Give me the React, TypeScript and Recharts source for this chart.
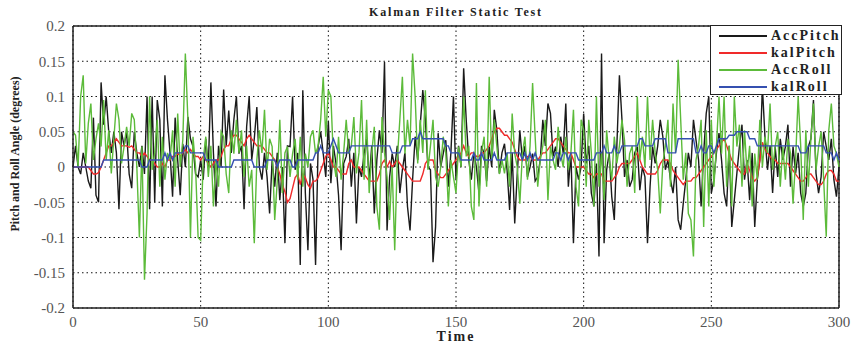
import React from "react";
import {
  LineChart,
  Line,
  XAxis,
  YAxis,
  CartesianGrid,
  ReferenceLine,
  Legend,
  Label,
} from "recharts";

// time axis, one sample per step
const time = Array.from({ length: 301 }, (_, i) => i);

const accPitch = [
  0.0, 0.03, 0.0, -0.01, 0.02, 0.0, -0.02, -0.03, 0.07, -0.04,
  -0.05, 0.12, 0.06, 0.1, 0.05, 0.02, 0.05, 0.02, -0.06, 0.05,
  0.03, 0.05, -0.01, -0.03, 0.05, 0.02, 0.0, 0.03, -0.01, 0.1,
  -0.06, 0.1, -0.05, 0.095, 0.067, -0.056, 0.13, 0.067, 0.02, -0.042,
  0.07, 0.01, -0.04, 0.033, 0.0, 0.071, 0.04, 0.029, -0.01, -0.014,
  0.01, -0.018, 0.04, 0.0, 0.12, 0.02, -0.056, 0.03, 0.0, 0.11,
  0.03, 0.08, 0.02, 0.067, 0.1, 0.019, 0.03, -0.06, 0.057, 0.1,
  0.01, 0.04, 0.085, 0.0, -0.018, 0.02, -0.014, -0.066, 0.01, -0.028,
  0.02, -0.047, 0.0, -0.108, 0.03, 0.029, 0.1, -0.004, 0.02, -0.139,
  0.109, -0.037, -0.118, 0.005, -0.018, -0.139, 0.029, 0.05, 0.019, -0.014,
  0.065, -0.023, 0.03, 0.005, -0.04, -0.118, 0.005, 0.015, 0.04, -0.028,
  0.02, -0.08, 0.0, -0.014, 0.019, 0.04, -0.018, 0.03, -0.066, 0.01,
  0.052, 0.02, 0.149, -0.09, -0.014, 0.019, 0.0, 0.03, -0.037, -0.004,
  0.02, -0.056, -0.09, -0.018, 0.043, 0.01, 0.06, 0.109, 0.067, 0.0,
  -0.004, -0.135, -0.085, 0.048, 0.0, 0.019, 0.038, -0.028, 0.02, 0.1,
  -0.018, 0.03, 0.0, 0.14, 0.067, 0.01, -0.018, 0.02, 0.0, -0.037,
  0.03, 0.019, -0.02, 0.029, 0.0, 0.081, 0.052, -0.009, 0.02, 0.033,
  -0.004, -0.061, 0.02, -0.08, -0.009, 0.052, 0.01, 0.03, -0.014, 0.0,
  0.019, -0.02, -0.014, 0.01, 0.067, 0.03, 0.09, 0.076, 0.015, 0.029,
  0.0, 0.043, 0.02, 0.09, -0.028, 0.02, -0.108, 0.0, -0.018, 0.0,
  0.076, 0.005, 0.03, -0.037, -0.056, 0.005, -0.127, 0.161, -0.108, -0.004,
  0.02, -0.042, -0.075, 0.03, 0.13, 0.067, -0.014, 0.01, -0.028, -0.018,
  0.02, 0.029, -0.033, 0.0, -0.014, -0.108, -0.028, 0.029, 0.005, 0.03,
  0.067, 0.043, -0.004, 0.01, -0.018, -0.037, 0.0, -0.075, -0.089, -0.052,
  -0.018, 0.02, 0.0, 0.067, 0.038, 0.01, -0.056, 0.02, 0.076, 0.1,
  -0.037, -0.018, 0.02, 0.048, 0.01, -0.037, -0.056, 0.03, -0.085, -0.047,
  -0.009, 0.029, 0.06, -0.018, 0.01, -0.047, 0.02, -0.085, -0.018, 0.01,
  0.114, 0.043, -0.004, 0.03, -0.037, 0.029, -0.014, 0.04, 0.01, 0.029,
  0.06, -0.028, 0.029, -0.009, 0.02, -0.037, -0.056, -0.037, 0.029, 0.04,
  0.095, -0.009, -0.037, -0.014, 0.05, 0.029, 0.01, 0.04, -0.018, -0.042, 0.0,
];

const kalPitch = [
  0, 0, 0, 0, 0, 0, 0, -0.005, -0.01, -0.01,
  -0.008, 0.0, 0.01, 0.02, 0.03, 0.03, 0.035, 0.04, 0.035, 0.03,
  0.03, 0.03, 0.028, 0.03, 0.025, 0.02, 0.02, 0.015, 0.02, 0.015,
  0.01, 0.01, 0.005, 0.0, 0.0, 0.005, 0.0, 0.01, 0.01, 0.015,
  0.015, 0.02, 0.015, 0.02, 0.025, 0.02, 0.025, 0.02, 0.015, 0.015,
  0.01, 0.015, 0.01, 0.005, 0.0, 0.005, 0.01, 0.01, 0.015, 0.025,
  0.03, 0.03, 0.04, 0.045, 0.045, 0.04, 0.035, 0.03, 0.04, 0.045,
  0.04, 0.035, 0.03, 0.03, 0.03, 0.025, 0.02, 0.02, 0.015, 0.01,
  0.0, -0.01, -0.025, -0.035, -0.05, -0.045, -0.03, -0.015, -0.01, -0.025,
  -0.01, -0.015, -0.025, -0.03, -0.02, -0.02, -0.015, -0.005, 0.005, 0.015,
  0.02, 0.01, 0.0, 0.0, -0.005, -0.01, -0.01, -0.01, 0.005, 0.01,
  0.0, 0.0, 0.0, -0.005, -0.01, -0.015, -0.02, -0.02, -0.02, -0.02,
  -0.01, 0.005, 0.01, 0.0, 0.008, 0.0, 0.005, 0.01, 0.005, 0.0,
  -0.005, -0.01, -0.015, -0.02, -0.02, -0.02, -0.02, -0.01, 0.005, 0.01,
  0.01, 0.01, -0.005, -0.01, -0.015, -0.015, -0.01, -0.005, 0.0, 0.005,
  0.01, 0.015, 0.02, 0.03, 0.02, 0.015, 0.02, 0.02, 0.015, 0.015,
  0.02, 0.02, 0.025, 0.03, 0.04, 0.05, 0.055, 0.055, 0.05, 0.045,
  0.045, 0.04, 0.035, 0.025, 0.015, 0.01, 0.01, 0.01, 0.015, 0.015,
  0.01, 0.01, 0.01, 0.015, 0.02, 0.02, 0.025, 0.03, 0.035, 0.04,
  0.04, 0.035, 0.03, 0.025, 0.02, 0.02, 0.01, 0.0, 0.0, 0.0,
  0.0, -0.005, -0.01, -0.01, -0.015, -0.01, -0.01, -0.01, -0.02, -0.02,
  -0.02, -0.02, -0.015, -0.01, 0.0, 0.005, 0.005, 0.005, 0.005, 0.01,
  0.015, 0.02, 0.01, 0.0, -0.005, -0.01, -0.01, -0.01, -0.01, -0.005,
  0.005, 0.01, 0.01, 0.01, 0.005, -0.005, -0.01, -0.015, -0.02, -0.025,
  -0.02, -0.02, -0.02, -0.015, -0.015, -0.01, -0.005, 0.0, 0.005, 0.01,
  0.015, 0.02, 0.025, 0.03, 0.035, 0.04, 0.03, 0.02, 0.01, 0.005,
  0.0, -0.005, -0.01, -0.01, 0.005, -0.005, -0.015, -0.02, -0.015, 0.01,
  0.035, 0.025, 0.02, 0.015, 0.01, 0.01, 0.005, 0.005, 0.005, 0.005,
  0.005, 0.0, -0.005, -0.01, -0.015, -0.02, -0.02, -0.015, -0.01, -0.01,
  -0.015, -0.02, -0.025, -0.025, -0.02, -0.01, -0.005, -0.005, -0.01, -0.02, -0.02,
];

const accRoll = [
  0.05, 0.045, 0.0, 0.1, 0.13, 0.005, 0.062, 0.09, 0.01, 0.04,
  0.062, 0.029, 0.095, 0.01, 0.052, -0.009, 0.04, 0.09, 0.067, 0.005,
  0.029, 0.057, 0.03, 0.076, 0.067, 0.0, -0.1, 0.029, -0.16, -0.066,
  0.1, -0.004, 0.02, 0.067, -0.028, 0.043, -0.018, 0.02, 0.01, 0.052,
  -0.028, 0.076, 0.0, 0.038, 0.161, 0.067, -0.1, 0.043, 0.0, -0.1,
  -0.104, 0.01, 0.043, -0.014, 0.03, -0.056, 0.01, -0.028, 0.05, 0.043,
  -0.01, -0.037, 0.052, 0.019, 0.067, 0.02, 0.052, -0.014, 0.03, -0.028,
  -0.004, -0.108, 0.01, 0.052, 0.02, 0.081, -0.004, 0.04, 0.029, -0.075,
  -0.02, 0.067, -0.037, 0.02, 0.029, -0.014, 0.019, 0.04, -0.018, 0.043,
  -0.028, 0.019, 0.0, 0.043, 0.052, 0.019, 0.03, 0.067, 0.128, 0.043,
  0.109, 0.1, 0.01, -0.014, 0.043, -0.018, 0.02, 0.067, 0.019, 0.03,
  0.071, -0.009, 0.02, 0.095, -0.018, 0.067, -0.037, 0.02, 0.057, -0.056,
  -0.089, 0.071, 0.02, -0.014, -0.075, 0.0, -0.118, 0.01, 0.067, 0.128,
  0.019, 0.067, 0.03, 0.161, 0.1, 0.005, 0.067, 0.02, 0.109, -0.004,
  0.03, 0.067, -0.014, -0.028, 0.0, 0.043, 0.02, -0.056, 0.01, -0.014,
  -0.037, 0.029, 0.0, 0.1, 0.015, 0.03, -0.056, -0.075, 0.119, -0.056,
  0.02, 0.043, -0.028, 0.128, 0.01, 0.067, 0.029, -0.01, 0.01, -0.009,
  0.02, -0.028, 0.076, 0.019, 0.0, -0.052, 0.019, 0.043, -0.018, 0.03,
  0.119, 0.043, -0.028, 0.01, 0.03, 0.067, -0.047, 0.029, 0.01, -0.004,
  0.057, 0.019, 0.0, 0.043, -0.004, 0.02, 0.081, -0.028, -0.056, 0.067,
  0.052, -0.028, 0.067, 0.02, -0.056, 0.1, -0.028, 0.02, -0.047, 0.052,
  0.01, -0.018, 0.043, 0.005, 0.03, 0.067, 0.038, -0.028, 0.019, 0.03,
  -0.037, 0.1, 0.01, 0.043, 0.0, 0.1, 0.01, 0.067, 0.02, -0.004,
  -0.066, 0.005, 0.03, 0.067, -0.028, 0.09, 0.02, 0.152, 0.067, -0.018,
  0.02, -0.066, -0.075, -0.127, 0.01, 0.03, 0.067, -0.085, 0.052, -0.056,
  0.067, -0.028, 0.03, 0.1, 0.019, 0.1, -0.028, 0.03, -0.056, 0.1,
  0.029, 0.06, -0.028, 0.052, -0.009, 0.03, -0.056, 0.019, -0.018, 0.067,
  0.0, 0.043, 0.02, 0.09, -0.004, 0.029, 0.05, -0.028, 0.029, -0.018,
  0.04, 0.019, -0.052, 0.01, 0.1, 0.03, -0.075, 0.052, -0.028, 0.04,
  0.09, -0.004, 0.029, 0.05, -0.018, -0.099, 0.052, 0.09, 0.03, 0.019, 0.0,
];

const kalRoll = [
  0, 0, 0, 0, 0, 0, 0, 0, 0, 0,
  0, 0, 0.01, 0.01, 0.01, 0.01, 0.01, 0.01, 0.01, 0.01,
  0.01, 0.01, 0.01, 0.01, 0.01, 0.01, 0.01, 0, 0, 0,
  0.01, 0.01, 0.01, 0.01, 0.01, 0.01, 0.02, 0.01, 0.02, 0.01,
  0.02, 0.02, 0.02, 0.02, 0.03, 0.03, 0.02, 0.02, 0.02, 0.02,
  0.02, 0.02, 0.01, 0.01, 0.01, 0.01, 0.01, 0, 0, 0,
  0, 0, 0, 0.01, 0.01, 0.01, 0.01, 0.01, 0.01, 0.01,
  0.01, 0, 0, 0, 0, 0, 0.01, 0.01, 0.01, 0.01,
  0, 0.01, 0.01, 0.01, 0.01, 0.01, 0, 0, 0.01, 0.01,
  0.01, 0.01, 0.01, 0.01, 0.01, 0.02, 0.02, 0.03, 0.02, 0.02,
  0.02, 0.03, 0.04, 0.03, 0.02, 0.02, 0.02, 0.02, 0.02, 0.03,
  0.03, 0.03, 0.03, 0.03, 0.03, 0.03, 0.03, 0.03, 0.03, 0.03,
  0.03, 0.03, 0.03, 0.03, 0.03, 0.02, 0.02, 0.02, 0.02, 0.03,
  0.03, 0.03, 0.03, 0.04, 0.04, 0.04, 0.05, 0.04, 0.04, 0.04,
  0.04, 0.04, 0.04, 0.04, 0.04, 0.04, 0.03, 0.03, 0.02, 0.02,
  0.02, 0.02, 0.01, 0.01, 0.01, 0.01, 0.01, 0.02, 0.01, 0.01,
  0.02, 0.01, 0.01, 0.01, 0.01, 0.02, 0.01, 0.01, 0.01, 0.01,
  0.02, 0.02, 0.02, 0.02, 0.02, 0.02, 0.01, 0.02, 0.01, 0.02,
  0.01, 0.02, 0.01, 0.01, 0.01, 0.01, 0.01, 0.01, 0.01, 0.02,
  0.02, 0.01, 0.02, 0.02, 0.01, 0.02, 0.02, 0.02, 0.01, 0.01,
  0.01, 0.01, 0.01, 0.01, 0.01, 0.02, 0.02, 0.02, 0.03, 0.02,
  0.02, 0.02, 0.03, 0.02, 0.02, 0.03, 0.03, 0.03, 0.03, 0.03,
  0.03, 0.03, 0.04, 0.04, 0.03, 0.03, 0.03, 0.03, 0.04, 0.04,
  0.04, 0.04, 0.04, 0.02, 0.02, 0.02, 0.02, 0.04, 0.04, 0.04,
  0.04, 0.04, 0.04, 0.04, 0.02, 0.02, 0.03, 0.02, 0.02, 0.03,
  0.03, 0.02, 0.03, 0.04, 0.04, 0.04, 0.04, 0.045, 0.045, 0.045,
  0.05, 0.05, 0.05, 0.05, 0.05, 0.04, 0.04, 0.04, 0.03, 0.03,
  0.03, 0.03, 0.03, 0.03, 0.03, 0.03, 0.03, 0.03, 0.03, 0.03,
  0.03, 0.03, 0.03, 0.03, 0.03, 0.02, 0.02, 0.02, 0.03, 0.03,
  0.03, 0.03, 0.03, 0.03, 0.03, 0.02, 0.02, 0.02, 0.01, 0.02, 0.01,
];

const xTicks = [0, 50, 100, 150, 200, 250, 300];
const yTicks = [-0.2, -0.15, -0.1, -0.05, 0, 0.05, 0.1, 0.15, 0.2];

const series = [
  { key: "AccPitch", color: "#1a1a1a" },
  { key: "kalPitch", color: "#f02a2a" },
  { key: "AccRoll", color: "#5cbb3a" },
  { key: "kalRoll", color: "#3550b0" },
];

const data = time.map((t, i) => ({
  t,
  AccPitch: accPitch[i],
  kalPitch: kalPitch[i],
  AccRoll: accRoll[i],
  kalRoll: kalRoll[i],
}));

const serif = "'Liberation Serif', 'DejaVu Serif', serif";

const renderLegend = () => (
  <div
    style={{
      width: 132,
      height: 70,
      border: "1.5px solid #222",
      background: "#fff",
      boxSizing: "border-box",
      padding: "1px 0 0 8px",
      overflow: "hidden",
    }}
  >
    {series.map((s) => (
      <div
        key={s.key}
        style={{ display: "flex", alignItems: "center", height: 17 }}
      >
        <div style={{ width: 48, height: 0, borderTop: `2px solid ${s.color}` }} />
        <span
          style={{
            marginLeft: 4,
            fontFamily: serif,
            fontWeight: "bold",
            fontSize: 14,
            letterSpacing: 2,
            color: "#222",
            whiteSpace: "nowrap",
          }}
        >
          {s.key}
        </span>
      </div>
    ))}
  </div>
);

const renderYLabel = () => (
  <text
    x={16}
    y={154}
    transform="rotate(-90 16 154)"
    textAnchor="middle"
    dominantBaseline="middle"
    fontFamily={serif}
    fontWeight="bold"
    fontSize={12}
    fill="#222"
  >
    Pitch and Roll Angle (degrees)
  </text>
);

const App: React.FC = () => {
  return (
    <div
      style={{
        position: "absolute",
        left: 0,
        top: 0,
        width: 851,
        height: 347,
        background: "#fff",
      }}
    >
      <div
        style={{
          position: "absolute",
          left: 73,
          width: 766,
          top: 5,
          textAlign: "center",
          fontFamily: serif,
          fontWeight: "bold",
          fontSize: 12,
          letterSpacing: 1.8,
          color: "#222",
        }}
      >
        Kalman Filter Static Test
      </div>
      <LineChart
        width={851}
        height={347}
        data={data}
        margin={{ top: 26, right: 12, bottom: 0, left: 0 }}
      >
        <CartesianGrid stroke="#111" strokeDasharray="1.5 3" />
        <XAxis
          dataKey="t"
          type="number"
          domain={[0, 300]}
          ticks={xTicks}
          height={39}
          tickSize={0}
          tickMargin={8}
          axisLine={{ stroke: "#222", strokeWidth: 1.5 }}
          tick={{ fontFamily: serif, fontSize: 15, fill: "#555" }}
        >
          <Label
            value="Time"
            position="insideBottom"
            offset={6}
            style={{
              fontFamily: serif,
              fontWeight: "bold",
              fontSize: 14,
              letterSpacing: 2,
              fill: "#222",
            }}
          />
        </XAxis>
        <YAxis
          type="number"
          domain={[-0.2, 0.2]}
          ticks={yTicks}
          width={73}
          tickSize={0}
          tickMargin={8}
          axisLine={{ stroke: "#222", strokeWidth: 1.5 }}
          tick={{ fontFamily: serif, fontSize: 15, fill: "#555" }}
          label={{ content: renderYLabel }}
        />
        <ReferenceLine y={0.2} stroke="#222" strokeWidth={1.5} />
        <ReferenceLine x={300} stroke="#222" strokeWidth={1.5} />
        {series.map((s) => (
          <Line
            key={s.key}
            type="linear"
            dataKey={s.key}
            stroke={s.color}
            strokeWidth={1.4}
            dot={false}
            activeDot={false}
            isAnimationActive={false}
          />
        ))}
        <Legend
          layout="vertical"
          align="center"
          verticalAlign="middle"
          content={renderLegend}
          wrapperStyle={{ left: 710, top: 25, width: 132, height: 70 }}
        />
      </LineChart>
    </div>
  );
};

export default App;
